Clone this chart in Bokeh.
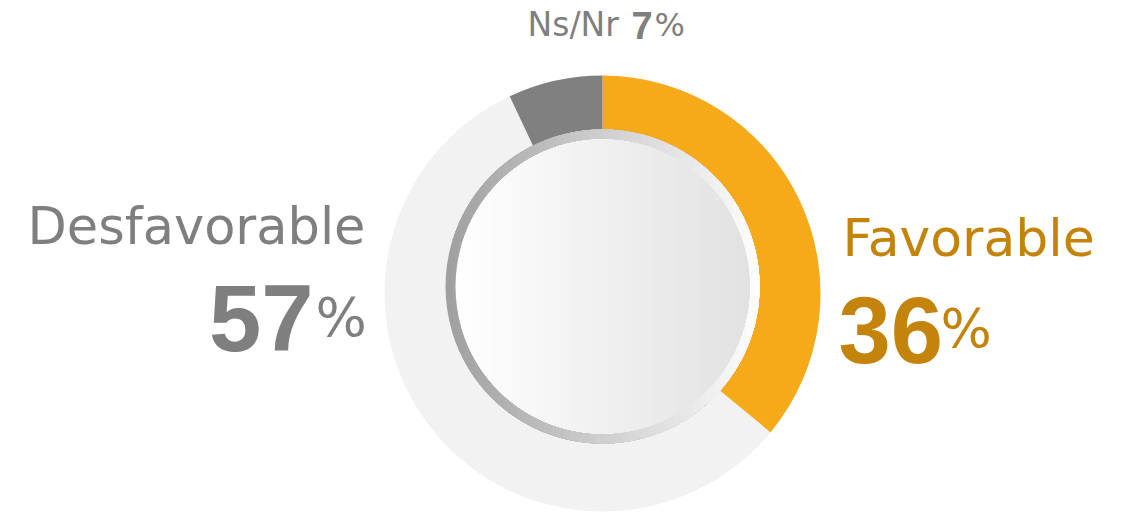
import numpy as np
from bokeh.plotting import figure
from bokeh.models import Range1d, ColumnDataSource
from bokeh.core.properties import value
from bokeh.embed import file_html
from bokeh.resources import INLINE

# ---- data ----
categories = ["Favorable", "Desfavorable", "Ns/Nr"]
values = [36, 57, 7]
colors = ["#F6AA19", "#F2F2F2", "#808080"]

W, H = 1127, 512
p = figure(width=W, height=H, x_range=Range1d(0, W), y_range=Range1d(512 - H, 512),
           output_backend="svg", toolbar_location=None, min_border=0,
           x_axis_location=None, y_axis_location=None)
p.xgrid.visible = False
p.ygrid.visible = False
p.outline_line_color = None
p.background_fill_color = "white"
p.border_fill_color = "white"


def Y(s):
    return 512 - s


cx, cy = 602, Y(293)

# wedges (clockwise from top)
total = float(sum(values))
cum = np.concatenate([[0], np.cumsum(values)[:-1]])
start = np.pi / 2 - 2 * np.pi * cum / total
end = start - 2 * np.pi * np.array(values) / total
src = ColumnDataSource(dict(cat=categories, val=values, start=start, end=end, color=colors))
p.annular_wedge(x=cx, y=cy, inner_radius=145, outer_radius=218, start_angle="start",
                end_angle="end", direction="clock", fill_color="color", line_color=None,
                source=src)


def hexmix(c1, c2, t):
    a = [int(c1[i:i + 2], 16) for i in (1, 3, 5)]
    b = [int(c2[i:i + 2], 16) for i in (1, 3, 5)]
    return "#%02x%02x%02x" % tuple(int(round(a[k] + (b[k] - a[k]) * t)) for k in range(3))


def gradient_disc(dcx, dcy, r, c_left, c_right, n=48):
    xs, ys, cs = [], [], []
    for i in range(n):
        f = i / n
        x0 = dcx - r + 2 * r * f
        th = np.arccos(np.clip((x0 - dcx) / r, -1, 1))
        t = np.linspace(-th, th, 90)
        xs.append(list(dcx + r * np.cos(t)))
        ys.append(list(dcy + r * np.sin(t)))
        cs.append(hexmix(c_left, c_right, f))
    p.patches(xs=xs, ys=ys, fill_color=cs, line_color=None)


dcx, dcy = 602, Y(286)
gradient_disc(dcx, dcy, 157, "#a0a0a0", "#ffffff")
gradient_disc(dcx, dcy, 147, "#ffffff", "#e1e1e1")

# ---- labels ----
gray = "#7F7F7F"
gold = "#C4830A"
light = value("DejaVu Sans")
bold = value("Liberation Sans")


def label(x, base, txt, size, color, font, align="left", style="normal"):
    p.text(x=[x], y=[Y(base - 0.38 * size)], text=[txt], text_align=align,
           text_baseline="alphabetic", text_font=font, text_font_style=style,
           text_font_size="%dpx" % size, text_color=color)


label(365, 245, categories[1], 51, gray, light, align="right")
label(313, 353, str(values[1]), 94, gray, bold, align="right", style="bold")
label(315, 338, "%", 54, gray, light)

label(842, 257, categories[0], 52, gold, light)
label(838, 365, str(values[0]), 94, gold, bold, style="bold")
label(940, 349, "%", 54, gold, light)

label(527, 37, categories[2], 33, gray, light)
label(631, 39, str(values[2]), 38, gray, bold, style="bold")
label(654, 37, "%", 32, gray, light)

open("out.html", "w").write(file_html(p, INLINE))
